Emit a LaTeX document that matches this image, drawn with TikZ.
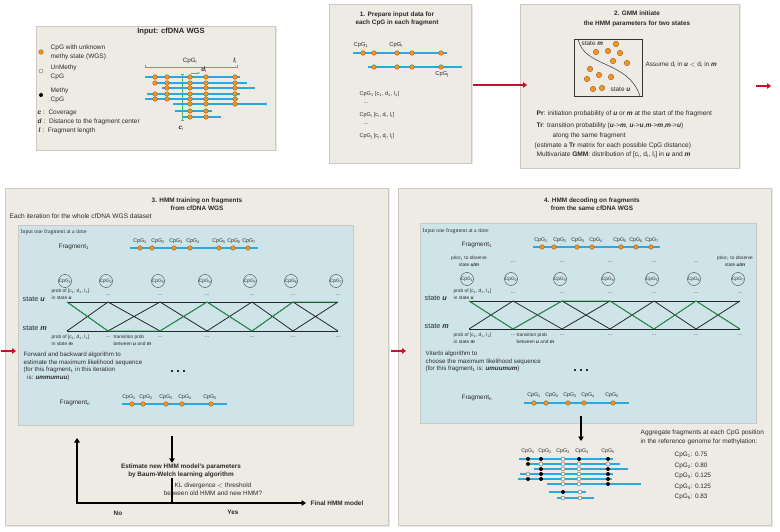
\documentclass[tikz,border=0pt]{standalone}
\usepackage{fontspec}
\setmainfont{Liberation Sans}
\newfontfamily\timesfont{Liberation Serif}
\usetikzlibrary{arrows.meta,shadows,calc}
\definecolor{panelbg}{HTML}{EEEBE5}
\definecolor{panelline}{HTML}{CCC8C2}
\definecolor{innerbg}{HTML}{CEE4E9}
\definecolor{fragblue}{HTML}{2AA9E0}
\definecolor{cpgorange}{HTML}{F7941D}
\definecolor{pathgreen}{HTML}{22A04B}
\definecolor{measgreen}{HTML}{4DB86A}
\definecolor{arrowred}{HTML}{C8102E}
\definecolor{textgrey}{HTML}{2B2B2B}
\newcommand{\cpgi}[1]{CpG\textsubscript{#1}}
\newcommand{\st}[1]{\textbf{\textit{#1}}}
\newcommand{\cdl}[1]{[c\textsubscript{#1}, d\textsubscript{#1}, l\textsubscript{#1}]}
\tikzset{
  panel/.style={fill=panelbg, draw=panelline, line width=0.8pt,
    drop shadow={shadow xshift=1.5pt, shadow yshift=-1.5pt, opacity=0.18}},
  inner/.style={fill=innerbg, draw=panelline, line width=0.7pt,
    drop shadow={shadow xshift=1pt, shadow yshift=-1pt, opacity=0.15}},
  frag/.style={fragblue, line width=1.1pt},
  cpg/.style={circle, fill=cpgorange, draw=cpgorange!55!black, line width=0.3pt, inner sep=0pt, minimum size=4.6pt},
  meth/.style={circle, fill=black, inner sep=0pt, minimum size=4pt},
  unmeth/.style={circle, fill=white!60!panelbg, draw=black!60, line width=0.4pt, inner sep=0pt, minimum size=4pt},
  title/.style={font=\fontsize{6.4}{8}\selectfont\bfseries, align=center},
  txt/.style={font=\fontsize{6.4}{7.8}\selectfont, align=left, anchor=west},
  lbl/.style={font=\fontsize{5.3}{6}\selectfont},
  tinytxt/.style={font=\fontsize{4.8}{6.8}\selectfont, align=left},
  statetxt/.style={font=\fontsize{7.2}{8}\selectfont, anchor=west},
  hmmstate/.style={circle, draw=black!75, line width=0.4pt, minimum size=13pt, inner sep=0pt, font=\fontsize{4.8}{5}\selectfont},
  trellis/.style={black!85, line width=0.8pt},
  greenpath/.style={pathgreen, line width=0.8pt},
  redarrow/.style={arrowred, line width=1.4pt, -{Triangle[length=4pt, width=5.5pt]}},
  flowarrow/.style={black, line width=1.4pt, -{Triangle[length=4.5pt, width=5.5pt]}},
  measure/.style={measgreen, line width=0.7pt}
}
\begin{document}
\begin{tikzpicture}[x=1pt, y=-1pt, every node/.style={text=textgrey, inner sep=0.5pt}]
\useasboundingbox (0,0) rectangle (780,532);
% panels
\draw[panel] (36,26) rectangle (275,150);
\draw[panel] (329,4) rectangle (471,163);
\draw[panel] (520,4) rectangle (739,168);
\draw[panel] (5,188) rectangle (388,525);
\draw[panel] (398,188) rectangle (771,525);
\draw[inner] (18,225) rectangle (353,425);
\draw[inner] (420,223) rectangle (756,423);

% input panel
\node[title, font=\fontsize{7.6}{9}\selectfont\bfseries] (intitle) at (171,32) {Input: cfDNA WGS};
\node[cpg] (lgcpg) at (41,52) {};
\node[txt, font=\fontsize{6.5}{9}\selectfont] (lgcpgtxt) at (50,52.5) {CpG with unknown\\methy state (WGS)};
\node[unmeth] (lgun) at (41,71) {};
\node[txt, font=\fontsize{6.5}{9}\selectfont] (lguntxt) at (50,72.5) {UnMethy\\CpG};
\node[meth] (lgme) at (41,95) {};
\node[txt, font=\fontsize{6.5}{9}\selectfont] (lgmetxt) at (50,95.5) {Methy\\CpG};
\node[txt, font=\fontsize{6.5}{8}\selectfont] (lgc) at (37,113) {\st{c} :\ \ Coverage};
\node[txt, font=\fontsize{6.5}{8}\selectfont] (lgd) at (37,122) {\st{d} :\ \ Distance to the fragment center};
\node[txt, font=\fontsize{6.5}{8}\selectfont] (lgl) at (38,131) {\st{l}\ :\ \ Fragment length};
\draw[measure, {Bar[width=3pt]}-{Bar[width=3pt]}] (145,67) coordinate (la) -- (238,67) coordinate (lb);
\node[lbl, font=\fontsize{6.2}{7}\selectfont] (lcpg) at (190,61) {\cpgi{i}};
\node[lbl, font=\fontsize{6.2}{7}\selectfont] (lli) at (235,61) {\st{l}\textsubscript{i}};
\draw[measure, {Bar[width=3pt]}-{Bar[width=3pt]}] (182,74) coordinate (ca) -- (182,121) coordinate (cb);
\node[lbl, font=\fontsize{6.2}{7}\selectfont] (lci) at (181,128) {\st{c}\textsubscript{i}};
\foreach \y/\xa/\xb/\cols in {77/145/240/{155,167,190,206,235}, 83/153/247/{155,167,190,206,235},
    88/162/255/{167,190,206,235}, 94/147/240/{155,167,190,206,235}, 99/145/238/{155,167,190,206,235},
    104/173/267/{190,206,235}, 111/175/212/{190,206}, 117/183/221/{190,206}} {
  \draw[frag] (\xa,\y) -- (\xb,\y);
  \foreach \x in \cols {\node[cpg] at (\x,\y) {};}
}
\draw[measure, -{Stealth[length=2.5pt]}] (191,73) coordinate (da) -- (200,73) coordinate (db);
\node[lbl, font=\fontsize{6.2}{7}\selectfont] (ldi) at (204,70) {\st{d}\textsubscript{i}};

% panel 1
\node[title] (t1) at (397,19) {1. Prepare input data for\\each CpG in each fragment};
\draw[frag] (353,53) -- (447,53);
\foreach \x in {363,374,397,412,441} {\node[cpg] at (\x,53) {};}
\draw[frag] (368,67) -- (462,67);
\foreach \x in {374,397,412,441} {\node[cpg] at (\x,67) {};}
\node[lbl, font=\fontsize{5.8}{6}\selectfont] (p1a) at (361,45) {\cpgi{1}};
\node[lbl, font=\fontsize{5.8}{6}\selectfont] (p1b) at (396,45) {\cpgi{i}};
\node[lbl, font=\fontsize{5.8}{6}\selectfont] (p1c) at (442,74) {\cpgi{j}};
\node[txt, font=\fontsize{5.5}{6}\selectfont] (v1) at (359,94) {\cpgi{1} \cdl{1}};
\node[txt, font=\fontsize{5.5}{6}\selectfont] (v2) at (363,103) {...};
\node[txt, font=\fontsize{5.5}{6}\selectfont] (v3) at (359,115) {\cpgi{i} \cdl{i}};
\node[txt, font=\fontsize{5.5}{6}\selectfont] (v4) at (363,124) {...};
\node[txt, font=\fontsize{5.5}{6}\selectfont] (v5) at (359,136) {\cpgi{j} \cdl{j}};

% panel 2
\node[title, font=\fontsize{6.4}{9.5}\selectfont\bfseries] (t2) at (637,19) {2. GMM initiate\\the HMM parameters for two states};
\draw[black!80, line width=0.5pt] (574,39) rectangle (642,96);
\draw[black!80, line width=0.5pt] (578,39) .. controls (584,68) and (628,60) .. (640,96);
\node[txt] (sm) at (581,43) {state \st{m}};
\node[txt] (su) at (610,89) {state \st{u}};
\foreach \x/\y in {616/44, 596/52, 608/51, 620/53, 613/61, 627/63, 590/69, 599/75, 611/77, 587/79, 593/89, 602/88}
  {\node[cpg, minimum size=5.5pt] at (\x,\y) {};}
\node[txt] (assume) at (645,65) {Assume d\textsubscript{i} in \st{u} $<$ d\textsubscript{i} in \st{m}};
\node[txt, font=\fontsize{6.6}{7.8}\selectfont] (pr) at (536,114) {\textbf{Pr}: initiation probability of \st{u} or \st{m} at the start of the fragment};
\node[txt, font=\fontsize{6.6}{7.8}\selectfont] (tr) at (536,126) {\textbf{Tr}: transition probability (\st{u}->\st{m}, \st{u}->\st{u},\st{m}->\st{m},\st{m}->\st{u})};
\node[txt, font=\fontsize{6.6}{7.8}\selectfont] (tr2) at (552,136) {along the same fragment};
\node[txt, font=\fontsize{6.6}{7.8}\selectfont] (tr3) at (534,146) {(estimate a \textbf{Tr} matrix for each possible CpG distance)};
\node[txt, font=\fontsize{6.6}{7.8}\selectfont] (gmm) at (536,155) {Multivariate \textbf{GMM}: distribution of \cdl{i} in \st{u} and \st{m}};

% panel 3
\node[title, font=\fontsize{6.4}{7.6}\selectfont\bfseries] (t3) at (197,204.5) {3. HMM training on fragments\\from cfDNA WGS};
\node[txt, font=\fontsize{6.6}{7.8}\selectfont] (iter) at (9,216) {Each iteration for the whole cfDNA WGS dataset};
\node[txt, font=\fontsize{5.8}{6}\timesfont] (in3) at (20,232) {Input one fragment at a time};
\node[txt] (fr3) at (58,246.5) {Fragment\textsubscript{1}};
\draw[frag] (130,248) -- (258,248);
\foreach \x/\lx [count=\i] in {140/140,152/158,174/176,190/193,219/219,233/234,248/249} {
  \node[cpg] (f3d\i) at (\x,248) {};
  \node[lbl] (f3l\i) at (\lx,241) {\cpgi{\i}};
}
\foreach \x [count=\i] in {67,108,160,207,252,293,338} {
  \coordinate (tu\i) at (\x,302);
  \coordinate (tm\i) at (\x,331);
  \node[hmmstate] (tc\i) at (\x-2,281) {\cpgi{\i}};
}
\foreach \i in {2,...,7} {
  \node[lbl] at ($(tu\i)+(0,-7)$) {...};
  \node[lbl] at ($(tm\i)+(0,6)$) {...};
}
\draw[trellis] (tu1) -- (tu7) (tm1) -- (tm7);
\foreach \i [evaluate=\i as \j using int(\i+1)] in {1,...,6} {
  \draw[trellis] (tu\i) -- (tm\j) (tm\i) -- (tu\j);
}
\draw[greenpath] (tu1) -- (tm2) -- (tm3) -- (tu4) -- (tm5) -- (tu6) -- (tu7);
\node[statetxt] (su3) at (22,299) {state \st{u}};
\node[statetxt] (sm3) at (22,328) {state \st{m}};
\node[tinytxt, anchor=west] (pu3) at (51,294.5) {prob of \cdl{1}\\in state \st{u}};
\node[tinytxt, anchor=west] (pm3) at (51,340) {prob of \cdl{1}\\in state \st{m}};
\node[tinytxt, anchor=west] (tp3) at (113,340) {transition prob\\between \st{u} and \st{m}};
\node[txt, font=\fontsize{6.2}{7.6}\selectfont] (fb) at (23,366.5) {Forward and backward algorithm to\\estimate the maximum likelihood sequence\\(for this fragment\textsubscript{1} in this iteration\\\ \ is: \st{ummumuu})};
\node (more3) at (178,371) {\rule{2.4pt}{2.4pt}\hspace{3.4pt}\rule{2.4pt}{2.4pt}\hspace{3.4pt}\rule{2.4pt}{2.4pt}};
\node[txt] (frn3) at (59,402.5) {Fragment\textsubscript{n}};
\draw[frag] (122,404) -- (227,404);
\foreach \x/\lx [count=\i] in {132/129,143/146,166/166,182/185,211/210} {
  \node[cpg] (g3d\i) at (\x,404) {};
  \node[lbl] (g3l\i) at (\lx,397) {\cpgi{\i}};
}
\coordinate (down3) at (172,436);
\node[title] (est) at (181,470.5) {Estimate new HMM model's parameters\\by Baum-Welch learning algorithm};
\draw[flowarrow] (down3) -- (down3 |- est.north);
\coordinate (split) at (172,503);
\coordinate (back) at (77,438);
\coordinate (fin) at (306,503);
\draw[black, line width=1.4pt] (split |- est.south) -- (split);
\draw[flowarrow] (split) -- (fin);
\draw[flowarrow] (split) -| (back);
\node[txt, align=center, anchor=center] (kl) at (213,489.5) {KL divergence $<$ threshold\\between old HMM and new HMM?};
\node[title, anchor=west] (final) at (fin) {\hspace{4pt}Final HMM model};
\node[title] (no) at (118,513) {No};
\node[title] (yes) at (233,512) {Yes};

% panel 4
\node[title, font=\fontsize{6.4}{7.6}\selectfont\bfseries] (t4) at (592,204.5) {4. HMM decoding on fragments\\from the same cfDNA WGS};
\node[txt, font=\fontsize{5.8}{6}\timesfont] (in4) at (422,231) {Input one fragment at a time};
\node[txt] (fr4) at (461,245) {Fragment\textsubscript{1}};
\draw[frag] (533,247) -- (660,247);
\foreach \x/\lx [count=\i] in {542/541,554/560,577/578,592/596,621/620,636/636,651/652} {
  \node[cpg] (f4d\i) at (\x,247) {};
  \node[lbl] (f4l\i) at (\lx,240) {\cpgi{\i}};
}
\foreach \x [count=\i] in {469,513,562,610,654,696,740} {
  \coordinate (du\i) at (\x,301);
  \coordinate (dm\i) at (\x,329);
  \node[hmmstate] (dc\i) at (\x-2,279) {\cpgi{\i}};
}
\foreach \i in {2,...,7} {
  \node[lbl] at ($(du\i)+(0,-8)$) {...};
  \node[lbl] at ($(dm\i)+(0,6)$) {...};
}
\foreach \i in {2,...,6} {\node[lbl] at ($(dc\i)+(2,-17)$) {...};}
\node[tinytxt, align=center] (pr1) at (469,261.5) {prior\textsubscript{1} to observe\\state \st{u/m}};
\node[tinytxt, align=center] (pr7) at (735,261.5) {prior\textsubscript{7} to observe\\state \st{u/m}};
\draw[trellis] (du1) -- (du7) (dm1) -- (dm7);
\foreach \i [evaluate=\i as \j using int(\i+1)] in {1,...,6} {
  \draw[trellis] (du\i) -- (dm\j) (dm\i) -- (du\j);
}
\draw[greenpath] (du1) -- (dm2) -- (du3) -- (du4) -- (dm5) -- (du6) -- (dm7);
\node[statetxt] (su4) at (424,298) {state \st{u}};
\node[statetxt] (sm4) at (424,326) {state \st{m}};
\node[tinytxt, anchor=west] (pu4) at (453,294.5) {prob of \cdl{1}\\in state \st{u}};
\node[tinytxt, anchor=west] (pm4) at (453,338.5) {prob of \cdl{1}\\in state \st{m}};
\node[tinytxt, anchor=west] (tp4) at (516,338.5) {transition prob\\between \st{u} and \st{m}};
\node[txt, font=\fontsize{6.2}{7.6}\selectfont] (vit) at (425,361.5) {Viterbi algorithm to\\choose the maximum likelihood sequence\\(for this fragment\textsubscript{1} is: \st{umuumum})};
\node (more4) at (581,370) {\rule{2.4pt}{2.4pt}\hspace{3.4pt}\rule{2.4pt}{2.4pt}\hspace{3.4pt}\rule{2.4pt}{2.4pt}};
\node[txt] (frn4) at (461,397.5) {Fragment\textsubscript{n}};
\draw[frag] (524,403) -- (629,403);
\foreach \x/\lx [count=\i] in {534/534,546/552,568/570,584/588,613/612} {
  \node[cpg] (g4d\i) at (\x,403) {};
  \node[lbl] (g4l\i) at (\lx,395) {\cpgi{\i}};
}
\coordinate (down4) at (581,416);
\coordinate (agg) at (581,441);
\draw[flowarrow] (down4) -- (agg);
\foreach \x [count=\i] in {528,545,563,582,608} {\node[lbl] (ml\i) at (\x,451) {\cpgi{\i}};}
\foreach \y/\xa/\xb/\cols in {459/519/613/{528/meth,541/meth,563/unmeth,579/meth,608/meth},
    464/527/620/{528/meth,541/unmeth,563/unmeth,579/unmeth,608/unmeth},
    469/534/628/{541/meth,563/unmeth,579/unmeth,608/meth},
    474/520/613/{528/unmeth,541/meth,563/unmeth,579/unmeth,608/meth},
    479/518/612/{528/meth,541/meth,563/unmeth,579/unmeth,608/meth},
    484/547/641/{563/unmeth,579/unmeth,608/meth},
    492/549/586/{563/meth,580/unmeth},
    498/557/594/{563/unmeth,580/unmeth}} {
  \draw[frag] (\xa,\y) -- (\xb,\y);
  \foreach \x/\s in \cols {\node[\s] at (\x,\y) {};}
}
\node[txt, font=\fontsize{6.5}{9}\selectfont] (aggtxt) at (640,437.5) {Aggregate fragments at each CpG position\\in the reference genome for methylation:};
\foreach \v [count=\i] in {0.75,0.80,0.125,0.125,0.83} {
  \node[txt] (lev\i) at (674,444.5+\i*10.5) {\cpgi{\i}: \v};
}

% red arrows
\coordinate (r1a) at (473,85); \coordinate (r1b) at (527,85);
\draw[redarrow] (r1a) -- (r1b);
\coordinate (r2a) at (756,86); \coordinate (r2b) at (771,86);
\draw[redarrow] (r2a) -- (r2b);
\coordinate (r3a) at (1,351); \coordinate (r3b) at (16,351);
\draw[redarrow] (r3a) -- (r3b);
\coordinate (r4a) at (391,351); \coordinate (r4b) at (406,351);
\draw[redarrow] (r4a) -- (r4b);
\end{tikzpicture}
\end{document}
